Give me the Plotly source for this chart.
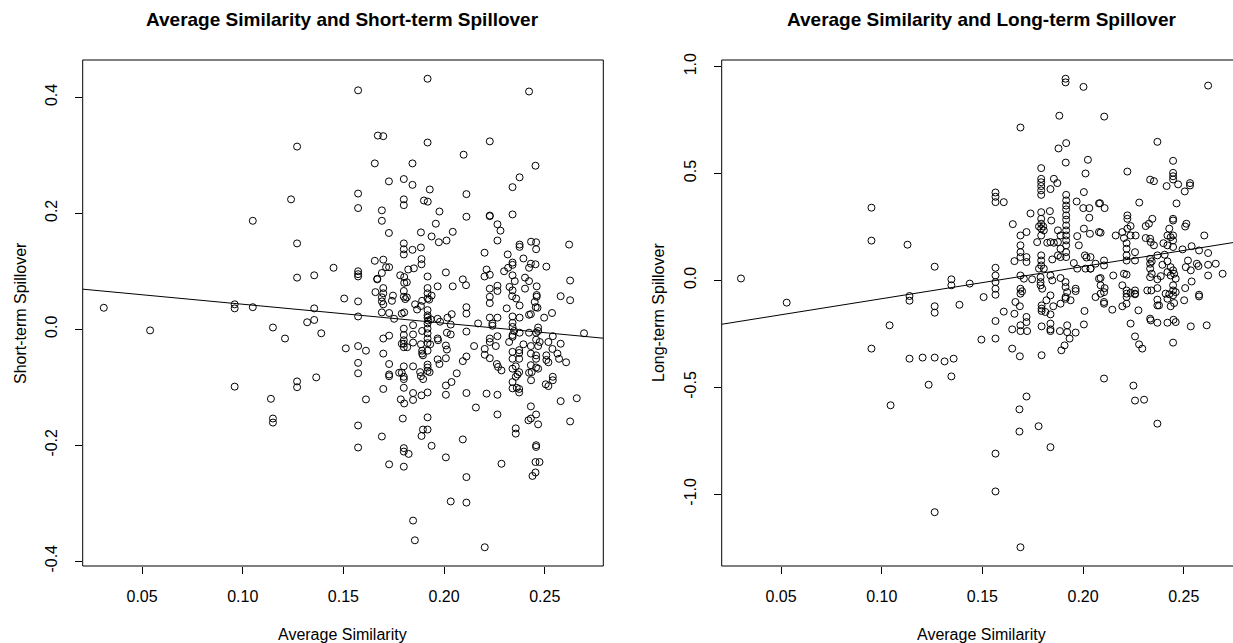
import numpy as np
import plotly.graph_objects as go

# ---------------- data ----------------
short_x = [
    0.031, 0.054, 0.096, 0.096, 0.105, 0.127, 0.124, 0.105, 0.127, 0.127,
    0.1355, 0.1355, 0.132, 0.1355, 0.115, 0.121, 0.139, 0.1365, 0.127, 0.127,
    0.096, 0.114, 0.115, 0.115,
    0.1918, 0.1573, 0.1671, 0.1698, 0.1918, 0.2097, 0.1656, 0.1843, 0.1726, 0.1800,
    0.1843, 0.1929, 0.1573, 0.2111, 0.1800, 0.1800, 0.1900, 0.1919, 0.1573, 0.1691,
    0.1977, 0.2111, 0.1691, 0.1959, 0.1726, 0.1885, 0.1938, 0.1974, 0.2012, 0.2043,
    0.1800, 0.1800, 0.1800, 0.1843, 0.1885, 0.1451, 0.1573, 0.1573, 0.1573, 0.1656,
    0.1698, 0.1712, 0.1727, 0.1888, 0.1888, 0.1691, 0.1668, 0.1668, 0.1822, 0.1850,
    0.2009, 0.1782, 0.1802, 0.1802, 0.1815, 0.1918, 0.2093, 0.2109, 0.2043, 0.1968,
    0.1918, 0.1918, 0.1659, 0.1698, 0.1698, 0.1504, 0.1573, 0.1691, 0.1691, 0.1698,
    0.1746, 0.1741, 0.1800, 0.1800, 0.1807, 0.1815, 0.1856, 0.1885, 0.1891, 0.1918,
    0.1926, 0.1938, 0.2111, 0.1573, 0.1691, 0.1727, 0.1790, 0.1802, 0.1918, 0.1918,
    0.1918, 0.1968, 0.2017, 0.2038, 0.2111, 0.1866,
    0.1752, 0.1921, 0.1934, 0.1980, 0.2033, 0.2111,
    0.1800, 0.1800, 0.1800, 0.1800, 0.1800, 0.1790, 0.1817,
    0.1846, 0.1846, 0.1846, 0.1891, 0.1885, 0.1891, 0.1891, 0.1895,
    0.1918, 0.1918, 0.1918, 0.1918, 0.1918, 0.1931, 0.1918,
    0.1968, 0.1970, 0.2014, 0.2033, 0.2009, 0.2014,
    0.1512, 0.1573, 0.1612, 0.1698, 0.1727, 0.1698,
    0.1573, 0.1573, 0.1727, 0.1727, 0.1727, 0.1777, 0.1790, 0.1800, 0.1800, 0.1800,
    0.1846, 0.1881, 0.1885, 0.1896, 0.1918, 0.1918, 0.1918, 0.1928,
    0.1968, 0.1977, 0.2009, 0.2093, 0.2111, 0.2063, 0.2037, 0.2009, 0.2009, 0.2111,
    0.1698, 0.1800, 0.1846, 0.1846, 0.1888, 0.1918, 0.1612, 0.1785, 0.1802,
    0.1795, 0.1918, 0.1573, 0.1691, 0.1895, 0.1918, 0.1888, 0.1938, 0.2093,
    0.1573, 0.1800, 0.1800, 0.1824, 0.2009, 0.1727, 0.1800, 0.2111, 0.2033, 0.2111, 0.1846, 0.1855,
    0.2422, 0.2227, 0.2454, 0.2375, 0.2340, 0.2227, 0.2227, 0.2340, 0.2265, 0.2280,
    0.2265, 0.2201, 0.2316, 0.2375, 0.2375, 0.2432, 0.2457, 0.2457, 0.2621, 0.2394,
    0.2340, 0.2340, 0.2318, 0.2298, 0.2431, 0.2454, 0.2422, 0.2508, 0.2211, 0.2201,
    0.2227, 0.2340, 0.2351, 0.2402, 0.2422, 0.2626, 0.2227, 0.2265, 0.2265, 0.2227,
    0.2227, 0.2325, 0.2340, 0.2338, 0.2358, 0.2402, 0.2460, 0.2460, 0.2460, 0.2375,
    0.2450, 0.2455, 0.2464, 0.2579, 0.2626, 0.2311, 0.2227, 0.2265, 0.2340, 0.2375,
    0.2422, 0.2431, 0.2497, 0.2536,
    0.2169, 0.2240, 0.2240, 0.2340, 0.2340, 0.2340, 0.2340, 0.2348, 0.2375, 0.2422,
    0.2467, 0.2467, 0.2457, 0.2540, 0.2695, 0.2227, 0.2227, 0.2265, 0.2257, 0.2149,
    0.2202, 0.2227, 0.2202, 0.2323, 0.2394, 0.2431, 0.2457, 0.2475, 0.2467, 0.2518,
    0.2538, 0.2579, 0.2340, 0.2373, 0.2373, 0.2340, 0.2373, 0.2431, 0.2457, 0.2457,
    0.2508, 0.2563, 0.2571, 0.2606, 0.2262, 0.2268, 0.2285, 0.2340, 0.2356, 0.2373,
    0.2365, 0.2431, 0.2457, 0.2467, 0.2422, 0.2435, 0.2508, 0.2518, 0.2340, 0.2356,
    0.2432, 0.2340, 0.2361, 0.2373, 0.2373, 0.2505, 0.2518, 0.2540, 0.2540, 0.2211,
    0.2265, 0.2579, 0.2659, 0.2158, 0.2265, 0.2431, 0.2457, 0.2431, 0.2419, 0.2467,
    0.2626, 0.2356, 0.2356, 0.2457, 0.2457, 0.2285, 0.2454, 0.2474, 0.2454, 0.2439,
    0.2202,
]
short_y = [
    0.037, -0.002, 0.043, 0.036, 0.038, 0.315, 0.224, 0.187, 0.148, 0.089,
    0.093, 0.036, 0.012, 0.016, 0.003, -0.016, -0.007, -0.083, -0.090, -0.100,
    -0.099, -0.120, -0.154, -0.161,
    0.432, 0.412, 0.334, 0.333, 0.322, 0.301, 0.286, 0.286, 0.255, 0.259,
    0.249, 0.241, 0.234, 0.233, 0.224, 0.214, 0.222, 0.220, 0.209, 0.205,
    0.203, 0.194, 0.187, 0.182, 0.166, 0.167, 0.160, 0.150, 0.153, 0.168,
    0.148, 0.138, 0.129, 0.137, 0.141, 0.106, 0.100, 0.095, 0.091, 0.118,
    0.120, 0.107, 0.107, 0.121, 0.112, 0.097, 0.087, 0.086, 0.103, 0.105,
    0.098, 0.093, 0.090, 0.080, 0.081, 0.091, 0.086, 0.076, 0.074, 0.074,
    0.071, 0.062, 0.064, 0.071, 0.062, 0.053, 0.048, 0.055, 0.048, 0.043,
    0.058, 0.049, 0.066, 0.056, 0.052, 0.055, 0.043, 0.040, 0.049, 0.053,
    0.051, 0.058, 0.038, 0.022, 0.029, 0.028, 0.027, 0.029, 0.033, 0.024,
    0.020, 0.018, 0.020, 0.026, 0.027, 0.034,
    0.018, 0.015, 0.017, 0.013, 0.008, -0.004,
    0.001, -0.010, -0.019, -0.025, -0.031, -0.025, -0.031,
    0.007, -0.009, -0.023, -0.003, -0.026, -0.037, -0.042, -0.045,
    0.010, 0.001, -0.007, -0.016, -0.024, -0.026, -0.037,
    -0.016, -0.019, -0.006, -0.009, -0.028, -0.035,
    -0.033, -0.029, -0.037, -0.016, -0.011, -0.042,
    -0.058, -0.076, -0.060, -0.078, -0.081, -0.075, -0.075, -0.064, -0.082, -0.086,
    -0.064, -0.074, -0.081, -0.086, -0.061, -0.066, -0.072, -0.074,
    -0.052, -0.060, -0.050, -0.055, -0.047, -0.076, -0.091, -0.097, -0.113, -0.110,
    -0.103, -0.101, -0.110, -0.122, -0.114, -0.109, -0.121, -0.121, -0.128,
    -0.154, -0.152, -0.166, -0.185, -0.173, -0.173, -0.184, -0.201, -0.190,
    -0.204, -0.205, -0.211, -0.215, -0.221, -0.233, -0.237, -0.255, -0.297, -0.299, -0.330, -0.364,
    0.410, 0.324, 0.282, 0.262, 0.245, 0.196, 0.195, 0.198, 0.181, 0.170,
    0.153, 0.132, 0.129, 0.146, 0.142, 0.151, 0.150, 0.138, 0.146, 0.122,
    0.115, 0.111, 0.106, 0.100, 0.113, 0.112, 0.106, 0.108, 0.103, 0.091,
    0.094, 0.093, 0.083, 0.089, 0.083, 0.084, 0.070, 0.075, 0.066, 0.056,
    0.045, 0.073, 0.067, 0.057, 0.053, 0.070, 0.074, 0.059, 0.056, 0.041,
    0.047, 0.038, 0.037, 0.057, 0.050, 0.036, 0.020, 0.020, 0.022, 0.020,
    0.025, 0.026, 0.020, 0.028,
    0.010, 0.010, 0.006, 0.011, 0.004, -0.010, -0.013, -0.003, -0.006, -0.006,
    0.003, -0.003, -0.006, -0.012, -0.007, -0.016, -0.022, -0.012, -0.029, -0.029,
    -0.034, -0.050, -0.044, -0.022, -0.026, -0.029, -0.018, -0.022, -0.029, -0.022,
    -0.034, -0.025, -0.039, -0.036, -0.041, -0.051, -0.051, -0.042, -0.045, -0.051,
    -0.045, -0.042, -0.051, -0.057, -0.060, -0.065, -0.071, -0.068, -0.064, -0.074,
    -0.078, -0.062, -0.066, -0.068, -0.075, -0.074, -0.053, -0.057, -0.091, -0.082,
    -0.088, -0.102, -0.101, -0.103, -0.109, -0.095, -0.098, -0.082, -0.088, -0.111,
    -0.113, -0.124, -0.119, -0.135, -0.147, -0.133, -0.147, -0.154, -0.157, -0.164,
    -0.159, -0.171, -0.180, -0.200, -0.203, -0.232, -0.229, -0.229, -0.247, -0.253,
    -0.376,
]

long_x = [
    0.0301, 0.0528, 0.0949, 0.0949, 0.0949, 0.1128, 0.1263, 0.1138, 0.1138, 0.1039,
    0.1263, 0.1263, 0.1346, 0.1346, 0.1386, 0.1437, 0.1138, 0.1203, 0.1263, 0.1312,
    0.1357, 0.1346, 0.1233, 0.1044, 0.1263,
    0.1913, 0.1913, 0.2002, 0.1882, 0.1689, 0.1878, 0.1916, 0.1914, 0.2024, 0.2012,
    0.1792, 0.1792, 0.1792, 0.1792, 0.1792, 0.1792, 0.1855, 0.1872, 0.1838, 0.1565,
    0.1565, 0.1565, 0.1606, 0.1916, 0.1916, 0.1916, 0.1916, 0.1916, 0.1916, 0.1916,
    0.1916, 0.1916, 0.1916, 0.1916, 0.1916, 0.1916, 0.1968, 0.2004, 0.2001, 0.2031,
    0.2031, 0.2079, 0.1739, 0.1651, 0.1792, 0.1792, 0.1792, 0.1792, 0.1792, 0.1781,
    0.1802, 0.1805, 0.1835, 0.1842, 0.1689, 0.1719, 0.1689, 0.1689, 0.1875, 0.1888,
    0.1875, 0.1888, 0.1875, 0.1888, 0.1772, 0.1822, 0.1838, 0.1855, 0.1971, 0.1979,
    0.2004, 0.2034, 0.2079, 0.1659, 0.1689, 0.1719, 0.1719, 0.1792, 0.1792, 0.1792,
    0.1781, 0.1805, 0.1847, 0.2009, 0.2017, 0.1954, 0.1971, 0.2012, 0.2037, 0.1565,
    0.1565, 0.1565, 0.1565, 0.1565, 0.1689, 0.1706, 0.1747, 0.1789, 0.1789, 0.1789,
    0.1797, 0.1838, 0.1847, 0.1888, 0.1689, 0.1697, 0.1689, 0.1913, 0.1913, 0.1921,
    0.1913, 0.1963, 0.1506, 0.1838, 0.2062, 0.2079,
    0.1963, 0.1664, 0.1686, 0.1606, 0.1659, 0.1565, 0.1719, 0.1719, 0.1794, 0.1794,
    0.1794, 0.1813, 0.1838, 0.1818, 0.1852, 0.1888, 0.1913, 0.1938, 0.2007, 0.2004,
    0.1648, 0.1689, 0.1689, 0.1722, 0.1794, 0.1838, 0.1838, 0.1838, 0.1885, 0.1921,
    0.1921, 0.1933, 0.1963, 0.1495, 0.1565, 0.1648, 0.1686, 0.1794, 0.1908, 0.1892,
    0.1719, 0.1684, 0.1779, 0.1684, 0.1838, 0.1565, 0.1565, 0.1689,
    0.2621, 0.2105, 0.2369, 0.2447, 0.2220, 0.2447, 0.2447, 0.2447, 0.2333, 0.2352,
    0.2415, 0.2472, 0.2531, 0.2531, 0.2505, 0.2084, 0.2107, 0.2279, 0.2464, 0.2220,
    0.2220, 0.2236, 0.2220, 0.2311, 0.2327, 0.2344, 0.2447, 0.2447, 0.2513, 0.2507,
    0.2428, 0.2419, 0.2435, 0.2447, 0.2447, 0.2602, 0.2087, 0.2162, 0.2195, 0.2203,
    0.2216, 0.2236, 0.2261, 0.2311, 0.2333, 0.2336, 0.2352, 0.2399, 0.2419, 0.2447,
    0.2494, 0.2539, 0.2576, 0.2621, 0.2104, 0.2104, 0.2037, 0.2037, 0.2062, 0.2216,
    0.2216, 0.2216, 0.2258, 0.2258, 0.2333, 0.2333, 0.2341, 0.2333, 0.2369, 0.2405,
    0.2394, 0.2419, 0.2435, 0.2447, 0.2521, 0.2565, 0.2573, 0.2621, 0.2659, 0.2693,
    0.2621, 0.2535, 0.2510, 0.2150, 0.2203, 0.2216, 0.2087, 0.2087, 0.2107, 0.2087,
    0.2104, 0.2195, 0.2216, 0.2216, 0.2236, 0.2258, 0.2258, 0.2319, 0.2339, 0.2333,
    0.2341, 0.2369, 0.2386, 0.2419, 0.2435, 0.2452, 0.2460, 0.2447, 0.2447, 0.2460,
    0.2447, 0.2369, 0.2410, 0.2507, 0.2539, 0.2576,
    0.2104, 0.2104, 0.2145, 0.2195, 0.2216, 0.2216, 0.2258, 0.2275, 0.2236, 0.2369,
    0.2369, 0.2377, 0.2333, 0.2336, 0.2369, 0.2419, 0.2428, 0.2419, 0.2435, 0.2452,
    0.2449, 0.2460, 0.2502, 0.2535, 0.2614, 0.2576, 0.2258, 0.2278, 0.2294, 0.2447,
    0.2104, 0.2250, 0.2258, 0.2303, 0.2369,
]
long_y = [
    0.009, -0.104, 0.340, 0.186, -0.319, 0.167, 0.064, -0.073, -0.095, -0.210,
    -0.121, -0.151, 0.005, -0.023, -0.114, -0.015, -0.366, -0.361, -0.361, -0.379,
    -0.366, -0.449, -0.488, -0.584, -1.084,
    0.943, 0.926, 0.905, 0.770, 0.715, 0.617, 0.642, 0.551, 0.564, 0.500,
    0.525, 0.475, 0.459, 0.441, 0.421, 0.400, 0.475, 0.455, 0.427, 0.411,
    0.391, 0.366, 0.366, 0.400, 0.374, 0.350, 0.332, 0.304, 0.284, 0.257,
    0.234, 0.210, 0.187, 0.164, 0.132, 0.109, 0.369, 0.413, 0.338, 0.338,
    0.293, 0.360, 0.313, 0.263, 0.319, 0.288, 0.265, 0.242, 0.210, 0.252,
    0.252, 0.234, 0.324, 0.280, 0.210, 0.226, 0.164, 0.132, 0.234, 0.210,
    0.179, 0.148, 0.117, 0.109, 0.179, 0.176, 0.179, 0.176, 0.207, 0.164,
    0.242, 0.218, 0.226, 0.090, 0.109, 0.109, 0.086, 0.117, 0.093, 0.070,
    0.055, 0.055, 0.098, 0.117, 0.107, 0.081, 0.055, 0.055, 0.055, 0.059,
    0.023, -0.008, -0.039, -0.067, 0.023, 0.008, 0.005, 0.015, -0.008, -0.023,
    -0.039, 0.023, 0.000, 0.011, -0.039, -0.051, -0.062, -0.008, -0.031, -0.055,
    -0.078, -0.039, -0.078, -0.070, -0.078, 0.008,
    -0.050, -0.101, -0.121, -0.146, -0.156, -0.190, -0.171, -0.195, -0.117, -0.132,
    -0.143, -0.148, -0.159, -0.093, -0.121, -0.109, -0.086, -0.093, -0.143, -0.206,
    -0.229, -0.210, -0.237, -0.237, -0.215, -0.202, -0.229, -0.237, -0.237, -0.210,
    -0.242, -0.272, -0.244, -0.277, -0.272, -0.319, -0.355, -0.350, -0.304, -0.327,
    -0.543, -0.603, -0.682, -0.707, -0.780, -0.810, -0.987, -1.248,
    0.911, 0.766, 0.648, 0.559, 0.509, 0.503, 0.487, 0.472, 0.471, 0.464,
    0.441, 0.449, 0.455, 0.444, 0.416, 0.361, 0.338, 0.364, 0.360, 0.304,
    0.288, 0.254, 0.242, 0.254, 0.265, 0.288, 0.288, 0.280, 0.265, 0.252,
    0.242, 0.210, 0.202, 0.210, 0.187, 0.210, 0.223, 0.210, 0.226, 0.198,
    0.174, 0.210, 0.210, 0.198, 0.195, 0.179, 0.164, 0.174, 0.164, 0.156,
    0.145, 0.160, 0.140, 0.128, 0.093, 0.070, 0.109, 0.055, 0.078, 0.148,
    0.117, 0.093, 0.132, 0.093, 0.101, 0.078, 0.089, 0.055, 0.117, 0.120,
    0.073, 0.089, 0.062, 0.047, 0.093, 0.078, 0.067, 0.073, 0.078, 0.031,
    0.023, 0.047, 0.062, 0.023, 0.031, 0.027, 0.011, -0.023, -0.036, -0.062,
    -0.055, -0.023, -0.047, -0.062, -0.058, -0.062, -0.047, -0.047, -0.047, 0.015,
    0.031, 0.005, 0.020, 0.039, 0.023, 0.031, 0.008, -0.023, -0.047, -0.055,
    -0.070, -0.036, -0.062, -0.036, -0.005, -0.067,
    -0.101, -0.109, -0.137, -0.121, -0.109, -0.078, -0.065, -0.140, -0.202, -0.090,
    -0.117, -0.117, -0.179, -0.187, -0.198, -0.198, -0.065, -0.086, -0.121, -0.106,
    -0.184, -0.195, -0.093, -0.215, -0.210, -0.075, -0.262, -0.299, -0.319, -0.291,
    -0.459, -0.492, -0.562, -0.558, -0.670,
]

assert len(short_x) == len(short_y), (len(short_x), len(short_y))
assert len(long_x) == len(long_y), (len(long_x), len(long_y))

# fitted regression lines: (intercept, slope)
short_fit = (0.0758, -0.327)
long_fit = (-0.236, 1.504)

titles = ["Average Similarity and Short-term Spillover",
          "Average Similarity and Long-term Spillover"]
x_title = "Average Similarity"
y_titles = ["Short-term Spillover", "Long-term Spillover"]
x_tick_vals = [0.05, 0.10, 0.15, 0.20, 0.25]
x_tick_text = ["0.05", "0.10", "0.15", "0.20", "0.25"]
short_tick_vals = [-0.4, -0.2, 0.0, 0.2, 0.4]
short_tick_text = ["-0.4", "-0.2", "0.0", "0.2", "0.4"]
long_tick_vals = [-1.0, -0.5, 0.0, 0.5, 1.0]
long_tick_text = ["-1.0", "-0.5", "0.0", "0.5", "1.0"]

# ---------------- layout geometry ----------------
W, H = 1233, 643
FONT = "Liberation Sans, Arial, sans-serif"
px_left = (82.7, 603.3)
px_right = (721.7, 1233.0)
px_top, px_bottom = 60.0, 566.0


def xr_frac(px):
    return px / W


def yr_frac(py):
    return 1 - py / H


def r_range(vals):
    lo, hi = min(vals), max(vals)
    ext = 0.04 * (hi - lo)
    return [lo - ext, hi + ext]


x_rng = r_range(short_x + long_x)
full_w = px_left[1] - px_left[0]
x_rng_right = [x_rng[0], x_rng[0] + (x_rng[1] - x_rng[0]) * (px_right[1] - px_right[0]) / full_w]

fig = go.Figure()
marker = dict(symbol="circle-open", size=7, color="black", line=dict(width=1, color="black"))

panels = [
    (short_x, short_y, "x", "y", x_rng, short_fit),
    (long_x, long_y, "x2", "y2", x_rng_right, long_fit),
]
for xs, ys, xa, ya, rng, (icpt, slope) in panels:
    fig.add_trace(go.Scatter(x=xs, y=ys, mode="markers", marker=marker,
                             xaxis=xa, yaxis=ya, showlegend=False, hoverinfo="x+y"))
    lx = np.array(rng)
    fig.add_trace(go.Scatter(x=lx, y=icpt + slope * lx, mode="lines",
                             line=dict(color="black", width=1),
                             xaxis=xa, yaxis=ya, showlegend=False, hoverinfo="skip"))

tickfont = dict(family=FONT, size=16, color="black")
common_x = dict(showgrid=False, zeroline=False, showline=False, ticks="outside",
                ticklen=7, tickwidth=1, tickcolor="black", tickfont=tickfont,
                tickvals=x_tick_vals, ticktext=x_tick_text, ticklabelstandoff=9,
                fixedrange=True, automargin=False)
common_y = dict(showgrid=False, zeroline=False, showline=False, ticks="outside",
                ticklen=7, tickwidth=1, tickcolor="black", tickfont=tickfont,
                tickangle=-90, ticklabelstandoff=11, fixedrange=True, automargin=False)

ydom = [yr_frac(px_bottom), yr_frac(px_top)]
fig.update_layout(
    width=W, height=H, autosize=False,
    margin=dict(l=0, r=0, t=0, b=0, pad=0, autoexpand=False),
    paper_bgcolor="white", plot_bgcolor="white",
    font=dict(family=FONT, color="black"),
    xaxis=dict(domain=[xr_frac(px_left[0]), xr_frac(px_left[1])], range=x_rng,
               anchor="y", **common_x),
    yaxis=dict(domain=ydom, range=r_range(short_y), anchor="x",
               tickvals=short_tick_vals, ticktext=short_tick_text, **common_y),
    xaxis2=dict(domain=[xr_frac(px_right[0]), 1.0], range=x_rng_right,
                anchor="y2", **common_x),
    yaxis2=dict(domain=ydom, range=r_range(long_y), anchor="x2",
                tickvals=long_tick_vals, ticktext=long_tick_text, **common_y),
)

# frames (R box)
for xa, ya, right_side in [("x", "y", True), ("x2", "y2", False)]:
    xd, yd = f"{xa} domain", f"{ya} domain"
    segs = [(0, 0, 1, 0), (0, 1, 1, 1), (0, 0, 0, 1)]
    if right_side:
        segs.append((1, 0, 1, 1))
    for x0, y0, x1, y1 in segs:
        fig.add_shape(type="line", xref=xd, yref=yd, x0=x0, y0=y0, x1=x1, y1=y1,
                      line=dict(color="black", width=1))

# titles and axis labels
cx_left = xr_frac((px_left[0] + px_left[1]) / 2)
cx_right = xr_frac(px_right[0] + full_w / 2)
ymid = yr_frac((px_top + px_bottom) / 2)
for cx, t in [(cx_left, titles[0]), (cx_right, titles[1])]:
    fig.add_annotation(text=f"<b>{t}</b>", x=cx, y=yr_frac(20), xref="paper", yref="paper",
                       showarrow=False, xanchor="center", yanchor="middle",
                       font=dict(family=FONT, size=19, color="black"))
for cx in [cx_left, cx_right]:
    fig.add_annotation(text=x_title, x=cx, y=yr_frac(634), xref="paper", yref="paper",
                       showarrow=False, xanchor="center", yanchor="middle",
                       font=dict(family=FONT, size=16, color="black"))
for px, t in [(20, y_titles[0]), (658, y_titles[1])]:
    fig.add_annotation(text=t, x=xr_frac(px), y=ymid, xref="paper", yref="paper",
                       showarrow=False, xanchor="center", yanchor="middle", textangle=-90,
                       font=dict(family=FONT, size=16, color="black"))

fig.write_html("out.html")
